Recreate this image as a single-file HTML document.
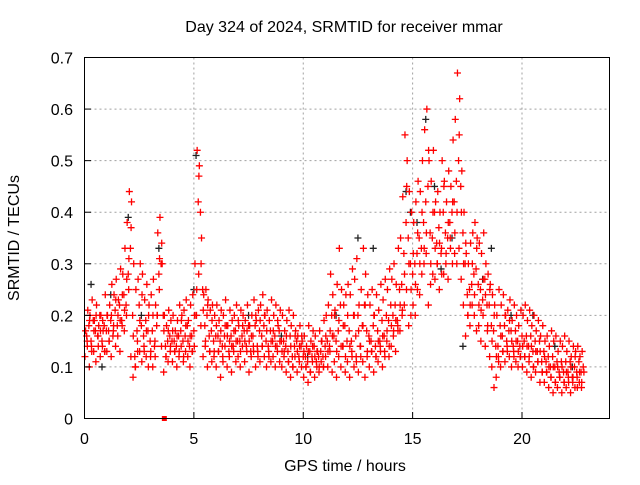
<!DOCTYPE html>
<html><head><meta charset="utf-8"><style>
body{margin:0;background:#fff}
svg text{font-family:"Liberation Sans",sans-serif;font-size:16px;fill:#000}
</style></head><body>
<svg width="640" height="480" xmlns="http://www.w3.org/2000/svg">
<rect width="640" height="480" fill="#fff"/>
<g id="grid"></g>
<g id="black"></g>
<g id="red"></g>
<rect x="84.5" y="57.5" width="525" height="361" fill="none" stroke="#000" stroke-width="1"/>
<g id="ticks"></g>
<text x="344" y="32" text-anchor="middle">Day 324 of 2024, SRMTID for receiver mmar</text>
<text x="345" y="471" text-anchor="middle">GPS time / hours</text>
<text transform="translate(19,238) rotate(-90)" text-anchor="middle">SRMTID / TECUs</text>
</svg>
<script>
const xTicks=[0,5,10,15,20];
const yTicks=[0,0.1,0.2,0.3,0.4,0.5,0.6,0.7];
const yLabels=["0","0.1","0.2","0.3","0.4","0.5","0.6","0.7"];
const tStart=0.05, tStep=0.1;
const seriesA=[.17,.21,.2,.23,.19,.22,.18,.2,.17,.24,.2,.22,.26,.24,.27,.23,.29,.28,.33,.38,.44,.42,.3,.25,.27,.3,.28,.23,.26,.22,.24,.27,.22,.36,.39,.3,.2,.18,.21,.19,.2,.17,.19,.22,.2,.21,.23,.19,.22,.24,.3,.52,.49,.35,.24,.25,.23,.21,.22,.2,.22,.19,.21,.2,.23,.18,.21,.19,.2,.22,.18,.21,.2,.19,.22,.18,.2,.23,.19,.21,.22,.24,.2,.21,.19,.23,.2,.22,.18,.21,.2,.17,.19,.21,.18,.2,.17,.16,.18,.15,.16,.14,.18,.15,.17,.16,.13,.17,.15,.19,.2,.22,.28,.24,.21,.26,.33,.25,.22,.24,.26,.24,.29,.27,.31,.22,.25,.33,.28,.24,.22,.25,.2,.24,.21,.26,.23,.27,.25,.29,.27,.3,.26,.33,.35,.43,.55,.5,.44,.4,.38,.42,.46,.44,.5,.56,.6,.5,.46,.52,.42,.44,.4,.5,.46,.42,.48,.45,.54,.58,.67,.62,.48,.4,.32,.3,.34,.36,.38,.35,.34,.32,.36,.3,.28,.26,.24,.22,.2,.25,.22,.24,.2,.21,.23,.19,.22,.2,.18,.21,.2,.22,.19,.21,.18,.2,.17,.19,.16,.18,.15,.16,.14,.17,.15,.16,.13,.15,.14,.16,.13,.15,.12,.14,.13,.14,.12,.13];
const seriesB=[.12,.15,.1,.14,.13,.11,.16,.12,.14,.13,.13,.15,.12,.17,.14,.16,.13,.18,.17,.2,.25,.12,.08,.1,.15,.13,.11,.14,.12,.1,.12,.1,.15,.2,.25,.14,.09,.12,.11,.13,.11,.13,.1,.12,.14,.11,.13,.12,.1,.13,.14,.2,.28,.18,.12,.14,.1,.13,.11,.12,.1,.13,.08,.12,.14,.1,.12,.09,.13,.11,.12,.1,.14,.11,.13,.09,.12,.14,.1,.13,.11,.14,.12,.1,.13,.11,.12,.1,.13,.11,.1,.12,.09,.11,.08,.1,.12,.09,.11,.1,.08,.1,.07,.09,.11,.08,.1,.09,.11,.1,.12,.1,.13,.09,.11,.08,.12,.1,.14,.09,.11,.08,.13,.1,.12,.09,.14,.11,.08,.12,.1,.13,.09,.12,.11,.14,.1,.13,.15,.12,.14,.16,.13,.18,.17,.2,.22,.25,.18,.2,.22,.2,.25,.24,.28,.3,.32,.22,.26,.28,.27,.3,.25,.33,.28,.3,.27,.35,.3,.32,.3,.33,.27,.22,.16,.2,.18,.22,.2,.17,.18,.15,.2,.14,.17,.12,.1,.06,.08,.12,.1,.13,.11,.14,.12,.1,.13,.11,.1,.12,.1,.12,.09,.11,.08,.1,.09,.11,.07,.09,.07,.09,.06,.08,.05,.07,.06,.08,.05,.07,.06,.08,.05,.07,.06,.08,.07,.06];
const seriesC=[.16,.18,.15,.19,.17,.16,.2,.15,.18,.17,.17,.19,.16,.21,.18,.22,.19,.24,.22,.28,.33,.2,.12,.17,.22,.18,.16,.19,.17,.15,.17,.14,.18,.28,.3,.2,.14,.15,.16,.15,.15,.14,.16,.17,.15,.16,.18,.14,.16,.17,.2,.42,.4,.25,.18,.2,.16,.17,.15,.16,.16,.15,.14,.16,.18,.13,.16,.14,.17,.15,.15,.16,.17,.14,.18,.13,.16,.18,.14,.17,.16,.18,.15,.14,.17,.15,.16,.14,.17,.15,.15,.14,.13,.16,.12,.14,.15,.12,.14,.12,.12,.11,.13,.12,.14,.11,.12,.13,.12,.14,.15,.14,.2,.16,.15,.17,.22,.14,.18,.15,.17,.15,.2,.16,.2,.14,.18,.22,.17,.16,.15,.18,.14,.17,.15,.19,.16,.2,.19,.22,.2,.22,.19,.25,.26,.32,.38,.35,.3,.28,.3,.32,.35,.33,.38,.42,.45,.36,.35,.4,.34,.37,.32,.4,.36,.35,.38,.4,.42,.46,.5,.45,.36,.3,.24,.25,.26,.28,.29,.26,.25,.23,.27,.22,.22,.18,.17,.14,.14,.18,.16,.18,.15,.17,.17,.14,.17,.15,.14,.16,.15,.16,.14,.16,.13,.15,.13,.15,.11,.13,.11,.12,.1,.12,.1,.11,.09,.11,.09,.11,.09,.11,.08,.1,.09,.11,.09,.1];
const seriesD=[.14,.19,.13,.17,.2,.14,.17,.19,.13,.2,.15,.2,.18,.23,.2,.19,.24,.21,.27,.31,.37,.16,.1,.13,.19,.24,.13,.17,.2,.13,.2,.12,.2,.31,.34,.17,.12,.17,.14,.17,.13,.16,.13,.19,.12,.18,.15,.16,.13,.2,.25,.47,.3,.21,.15,.22,.13,.19,.13,.18,.13,.17,.11,.18,.16,.15,.14,.17,.15,.19,.13,.18,.15,.17,.15,.16,.13,.2,.12,.19,.14,.2,.17,.12,.15,.17,.14,.19,.15,.13,.13,.16,.11,.14,.1,.16,.13,.14,.16,.13,.1,.13,.09,.14,.12,.13,.1,.15,.1,.16,.13,.17,.16,.2,.13,.19,.14,.18,.12,.2,.14,.12,.2,.11,.17,.12,.18,.22,.13,.15,.13,.2,.12,.15,.13,.16,.12,.17,.14,.18,.17,.19,.17,.22,.21,.28,.45,.3,.25,.32,.26,.36,.3,.4,.33,.36,.52,.3,.4,.33,.3,.34,.28,.45,.32,.38,.33,.42,.36,.4,.55,.4,.3,.34,.2,.22,.3,.24,.33,.22,.21,.27,.24,.18,.25,.15,.2,.12,.11,.16,.13,.2,.13,.19,.15,.12,.15,.13,.12,.14,.12,.14,.12,.14,.1,.13,.11,.13,.09,.12,.09,.1,.08,.1,.07,.1,.08,.1,.07,.09,.07,.1,.08,.12,.06,.09,.07,.09];
const blackT=[0.3,1.2,2.0,2.6,3.4,5.1,5.0,7.5,9.0,11.5,12.5,13.2,14.7,15.2,15.6,16.0,16.3,16.8,17.3,18.2,18.6,19.5,20.5,21.5,22.3,14.9,0.8,10.2];
const blackV=[.26,.24,.39,.2,.33,.51,.25,.2,.16,.2,.35,.33,.44,.38,.58,.45,.29,.35,.14,.27,.33,.2,.2,.14,.1,.4,.1,.12];
const squareT=[3.65], squareV=[0];

const NS="http://www.w3.org/2000/svg";
const X=t=>84.5+t*(525/24), Y=v=>418.5-v*(361/0.7);
function el(tag,attrs,parent){const e=document.createElementNS(NS,tag);for(const k in attrs)e.setAttribute(k,attrs[k]);parent.appendChild(e);return e;}
const grid=document.getElementById('grid'),ticks=document.getElementById('ticks');
xTicks.forEach(t=>{
  if(t>0){const g=el('line',{x1:X(t),x2:X(t),y1:57.5,y2:418.5,stroke:'#a0a0a0','stroke-dasharray':'2,3'},grid);
  
  }
  const tk=el('line',{x1:X(t),x2:X(t),y1:418.5,y2:412,stroke:'#000'},ticks);
  
  
  const tx=el('text',{x:X(t),y:444,'text-anchor':'middle'},ticks);tx.textContent=t;
  
  
});
yTicks.forEach((v,i)=>{
  if(v>0&&v<0.7){const g=el('line',{x1:84.5,x2:609.5,y1:Y(v),y2:Y(v),stroke:'#a0a0a0','stroke-dasharray':'2,3'},grid);
  
  }
  const tk=el('line',{x1:84.5,x2:91,y1:Y(v),y2:Y(v),stroke:'#000'},ticks);
  
  
  const tx=el('text',{x:73,y:Y(v)+6,'text-anchor':'end'},ticks);tx.textContent=yLabels[i];
  
  
});
function plus(t,v,color,g){
  const x=X(t),y=Y(v);
  const p=el('path',{d:`M${x-3.5},${y}H${x+3.5}M${x},${y-3.5}V${y+3.5}`,stroke:color,'stroke-width':1.3,fill:'none'},g);
  
  
}
const gb=document.getElementById('black'),gr=document.getElementById('red');
blackT.forEach((t,i)=>plus(t,blackV[i],'#222',gb));
const shifts=[0,-0.03,0.05,0.08];
[seriesA,seriesB,seriesC,seriesD].forEach((s,k)=>s.forEach((v,i)=>plus(tStart+i*tStep+shifts[k],v,'#ff0000',gr)));
squareT.forEach((t,i)=>{const r=el('rect',{x:X(t)-2.5,y:Y(squareV[i])-2.5,width:5,height:5,fill:'#ff0000'},gr);

});
</script>
</body></html>
